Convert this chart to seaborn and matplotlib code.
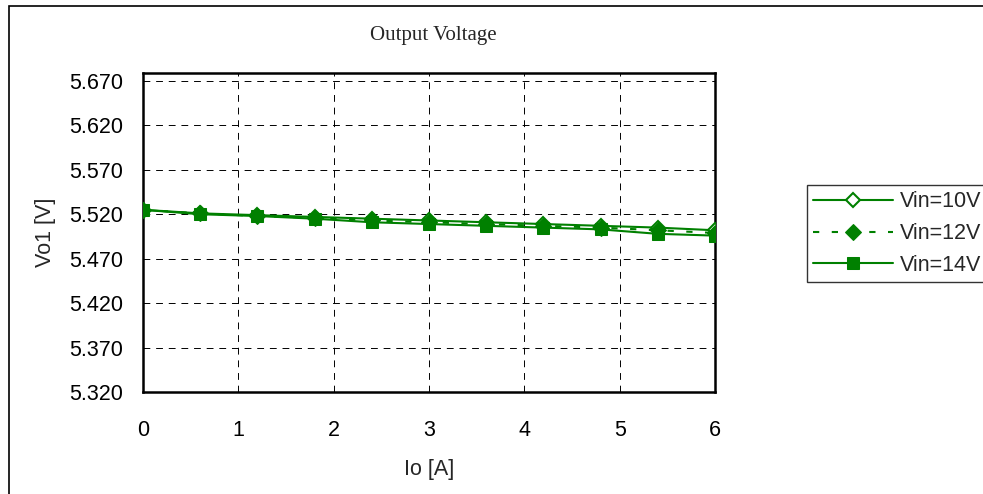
import matplotlib
matplotlib.use("Agg")
import matplotlib.pyplot as plt
import seaborn as sns
import pandas as pd
from matplotlib.patches import Rectangle

sns.set_style("white")
plt.rcParams['font.family'] = ['Liberation Sans', 'DejaVu Sans']

io_a = [0.0, 0.6, 1.2, 1.8, 2.4, 3.0, 3.6, 4.2, 4.8, 5.4, 6.0]
vin10 = [5.525, 5.521, 5.519, 5.517, 5.515, 5.513, 5.511, 5.509, 5.507, 5.505, 5.502]
vin12 = [5.525, 5.521, 5.518, 5.516, 5.513, 5.511, 5.509, 5.507, 5.505, 5.502, 5.499]
vin14 = [5.525, 5.520, 5.518, 5.515, 5.511, 5.509, 5.507, 5.505, 5.503, 5.498, 5.496]
series_names = ["Vin=10V", "Vin=12V", "Vin=14V"]
y_ticks = [5.320, 5.370, 5.420, 5.470, 5.520, 5.570, 5.620, 5.670]
x_ticks = [0, 1, 2, 3, 4, 5, 6]

df = pd.DataFrame({"Io": io_a * 3,
                   "Vo": vin10 + vin12 + vin14,
                   "Vin": sum([[n] * len(io_a) for n in series_names], [])})

fig = plt.figure(figsize=(9.83, 4.94), dpi=100)
ax = fig.add_axes([143/983, 1-392.3/494, (715-143)/983, (392.3-72.7)/494])

green = "#008000"
styles = {
    "Vin=10V": dict(marker="D", markerfacecolor="white", markeredgecolor=green,
                    markeredgewidth=1.5, markersize=7.5, linestyle="-", lw=1.5),
    "Vin=12V": dict(marker="D", markerfacecolor=green, markeredgecolor=green,
                    markersize=8, linestyle=(0, (3, 6)), lw=1.5),
    "Vin=14V": dict(marker="s", markerfacecolor=green, markeredgecolor=green,
                    markersize=8, linestyle="-", lw=1.5),
}
for i, name in enumerate(series_names):
    sub = df[df["Vin"] == name]
    sns.lineplot(data=sub, x="Io", y="Vo", ax=ax, color=green, label=name,
                 zorder=3 + i, **styles[name])

ax.set_xlim(0, 6)
ax.set_ylim(5.320, 5.679)
ax.set_xticks(x_ticks)
ax.set_yticks(y_ticks)
ax.set_yticklabels([f"{v:.3f}" for v in y_ticks])
ax.tick_params(axis="both", length=0, labelsize=15.5, colors="black")
ax.tick_params(axis="y", pad=14.5)
ax.tick_params(axis="x", pad=20)
ax.grid(True, color="black", linestyle=(0, (7, 6)), linewidth=0.7)
for s in ax.spines.values():
    s.set_color("black")
    s.set_linewidth(1.8)

ax.set_xlabel("Io [A]", fontsize=15.5, labelpad=13)
ax.set_ylabel("Vo1 [V]", fontsize=15.5, labelpad=9)

fig.text(433/983, 1-35.5/494, "Output Voltage", family=["Liberation Serif"],
         fontsize=15, ha="center", va="center")

leg = ax.legend(loc="upper left", bbox_to_anchor=(807/983, 1-185/494),
                bbox_transform=fig.transFigure, borderaxespad=0,
                fontsize=15.5, frameon=True, fancybox=False, handlelength=3.7,
                labelspacing=0.5, handletextpad=0.3, borderpad=0.3)
leg.get_frame().set_edgecolor("black")
leg.get_frame().set_linewidth(1.0)

fig.patches.append(Rectangle((9/983, -0.1), 1.2, 1 - 6/494 + 0.1, transform=fig.transFigure,
                             fill=False, edgecolor="black", linewidth=1.2))

fig.savefig("out.png", dpi=100)
